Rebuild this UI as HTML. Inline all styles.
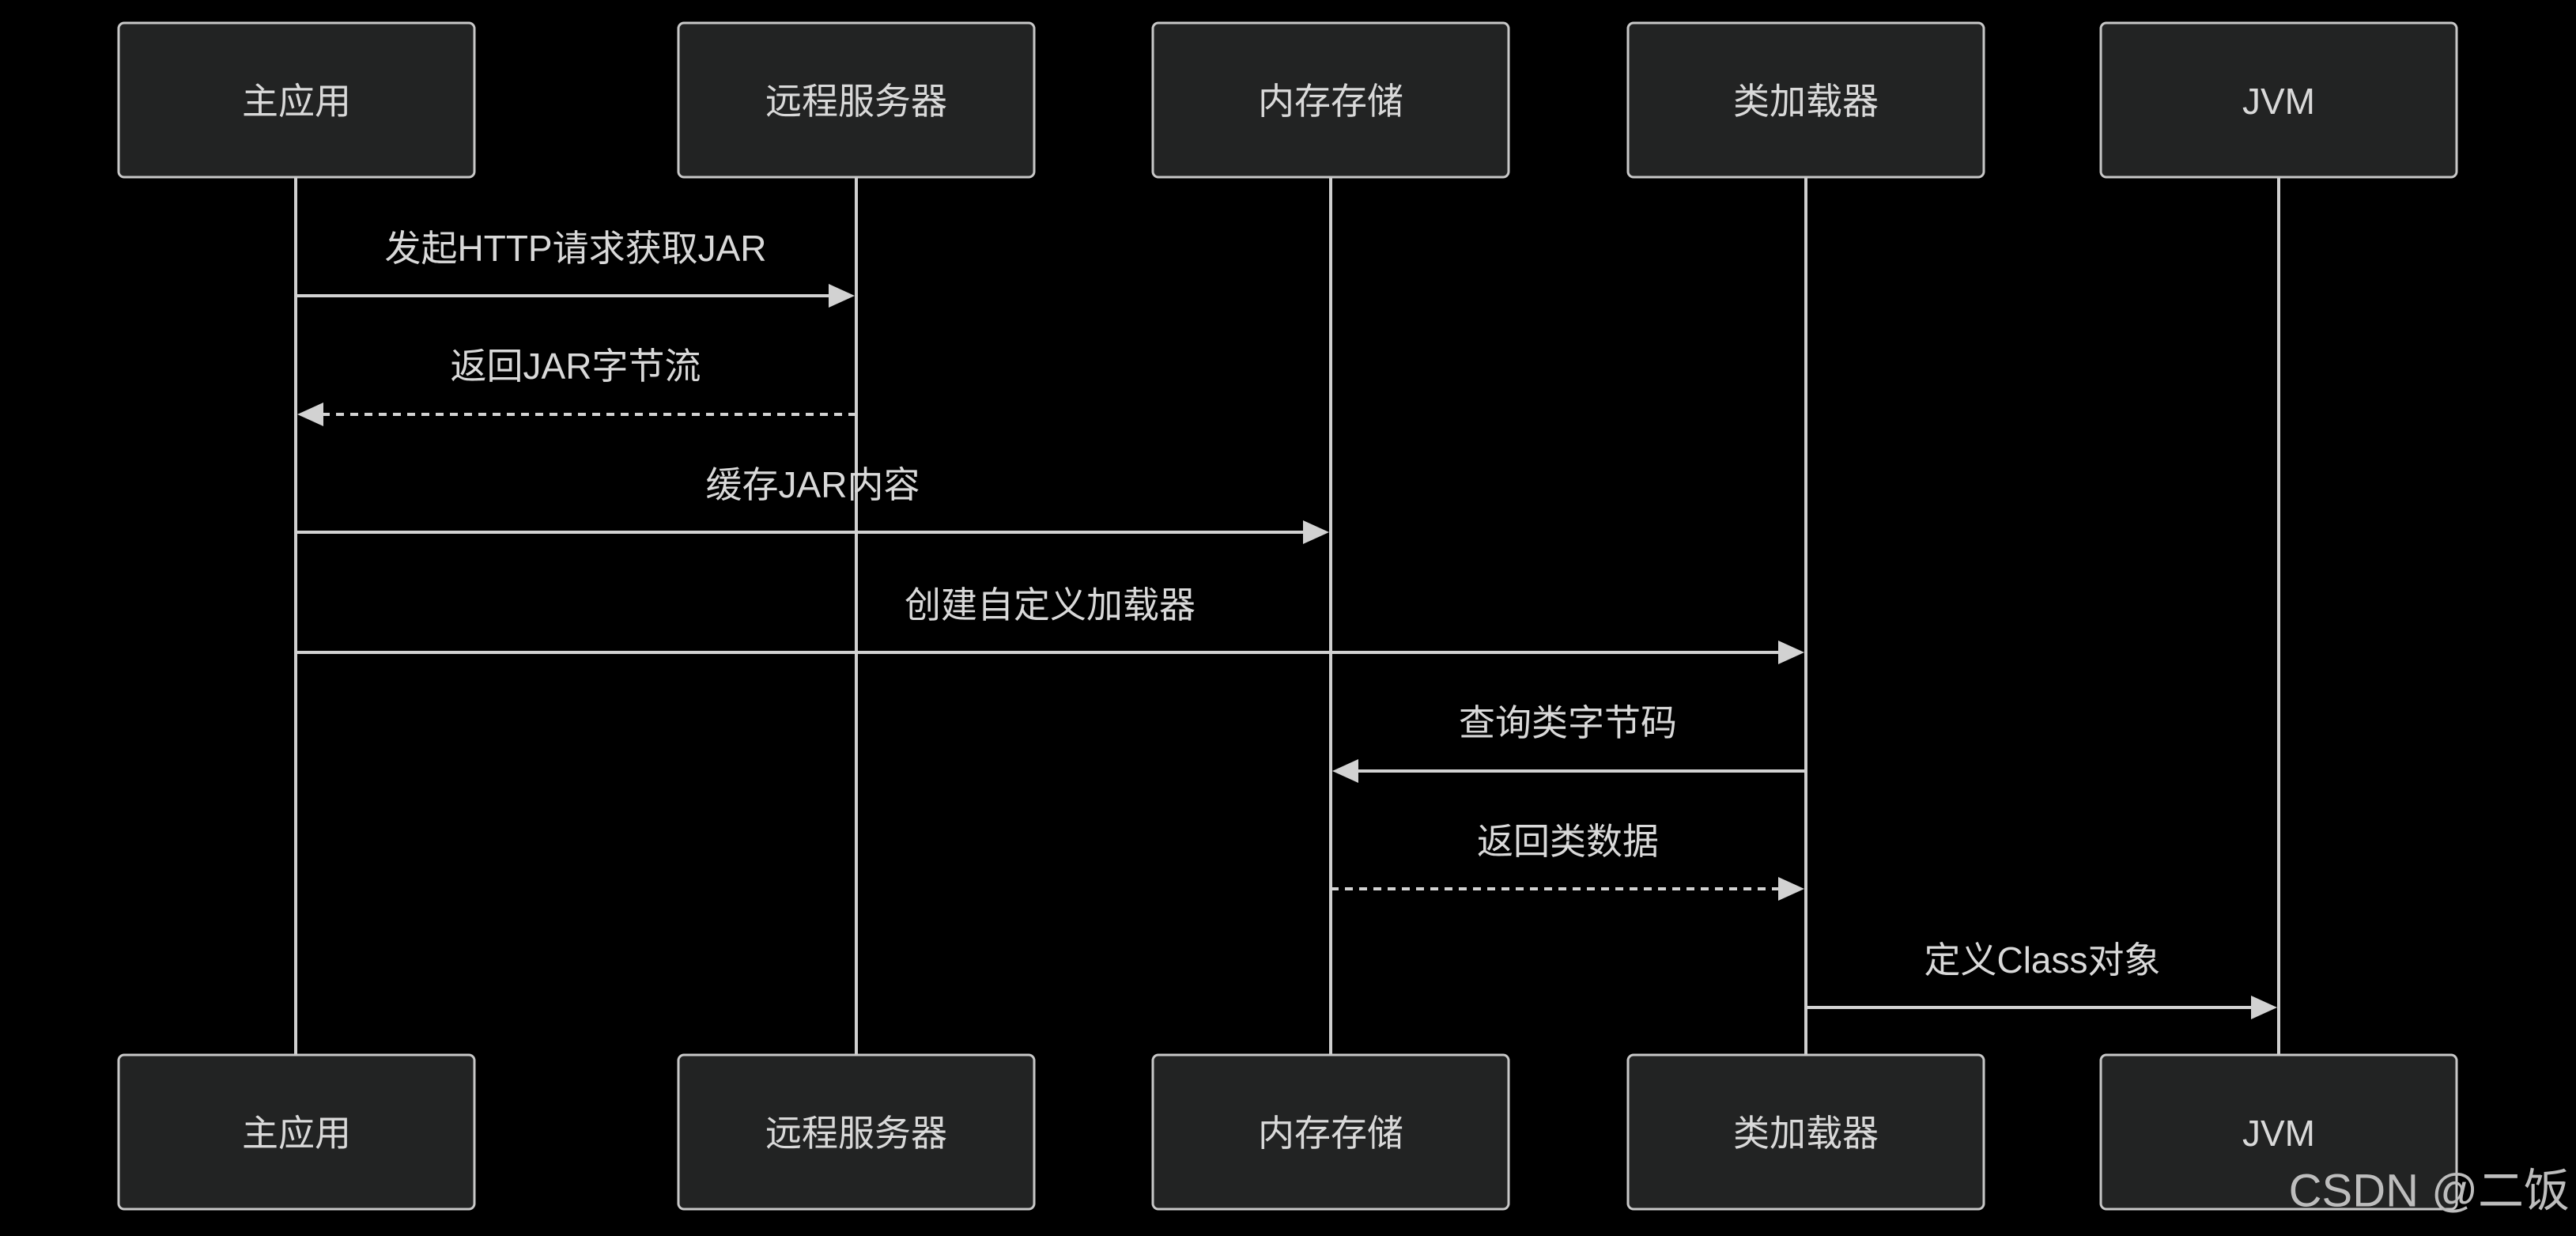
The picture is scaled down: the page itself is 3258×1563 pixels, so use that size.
<!DOCTYPE html>
<html><head><meta charset="utf-8"><style>
html,body{margin:0;padding:0;background:#000;}
svg{display:block}
text{font-family:"Liberation Sans","Noto Sans CJK SC",sans-serif;fill:#d9d9d9;}
</style></head><body>
<svg width="3258" height="1563" viewBox="0 0 3258 1563" xmlns="http://www.w3.org/2000/svg">
<rect width="3258" height="1563" fill="#000"/>
<g stroke="#cfcfcf" stroke-width="4">
<line x1="374" y1="224" x2="374" y2="1334"/>
<line x1="1083" y1="224" x2="1083" y2="1334"/>
<line x1="1683" y1="224" x2="1683" y2="1334"/>
<line x1="2284" y1="224" x2="2284" y2="1334"/>
<line x1="2882" y1="224" x2="2882" y2="1334"/>
</g>
<g fill="#222323" stroke="#c8c8c8" stroke-width="3">
<rect x="150" y="29" width="450" height="195" rx="7"/>
<rect x="858" y="29" width="450" height="195" rx="7"/>
<rect x="1458" y="29" width="450" height="195" rx="7"/>
<rect x="2059" y="29" width="450" height="195" rx="7"/>
<rect x="2657" y="29" width="450" height="195" rx="7"/>
<rect x="150" y="1334" width="450" height="195" rx="7"/>
<rect x="858" y="1334" width="450" height="195" rx="7"/>
<rect x="1458" y="1334" width="450" height="195" rx="7"/>
<rect x="2059" y="1334" width="450" height="195" rx="7"/>
<rect x="2657" y="1334" width="450" height="195" rx="7"/>
</g>
<g font-size="46" text-anchor="middle" dominant-baseline="central">
<text x="375" y="128">主应用</text>
<text x="1083" y="128">远程服务器</text>
<text x="1683" y="128">内存存储</text>
<text x="2284" y="128">类加载器</text>
<text x="2882" y="128">JVM</text>
<text x="375" y="1433">主应用</text>
<text x="1083" y="1433">远程服务器</text>
<text x="1683" y="1433">内存存储</text>
<text x="2284" y="1433">类加载器</text>
<text x="2882" y="1433">JVM</text>
<text x="728" y="314">发起HTTP请求获取JAR</text>
<text x="728" y="463">返回JAR字节流</text>
<text x="1028" y="613">缓存JAR内容</text>
<text x="1328" y="765">创建自定义加载器</text>
<text x="1983" y="914">查询类字节码</text>
<text x="1983" y="1064">返回类数据</text>
<text x="2583" y="1214">定义Class对象</text>
</g>
<g stroke="#d2d2d2" stroke-width="4">
<line x1="374" y1="374" x2="1050" y2="374"/>
<line x1="1083" y1="524" x2="408" y2="524" stroke-dasharray="10 8"/>
<line x1="374" y1="673" x2="1650" y2="673"/>
<line x1="374" y1="825" x2="2251" y2="825"/>
<line x1="2284" y1="975" x2="1717" y2="975"/>
<line x1="1683" y1="1124" x2="2251" y2="1124" stroke-dasharray="10 8"/>
<line x1="2284" y1="1274" x2="2849" y2="1274"/>
</g>
<g fill="#d2d2d2">
<polygon points="1081,374 1048,359 1048,389"/>
<polygon points="376,524 409,509 409,539"/>
<polygon points="1681,673 1648,658 1648,688"/>
<polygon points="2282,825 2249,810 2249,840"/>
<polygon points="1685,975 1718,960 1718,990"/>
<polygon points="2282,1124 2249,1109 2249,1139"/>
<polygon points="2880,1274 2847,1259 2847,1289"/>
</g>
<text x="3250" y="1506" font-size="58" text-anchor="end" dominant-baseline="central" style="fill:#bdbdbd">CSDN @二饭</text>
</svg>
</body></html>
